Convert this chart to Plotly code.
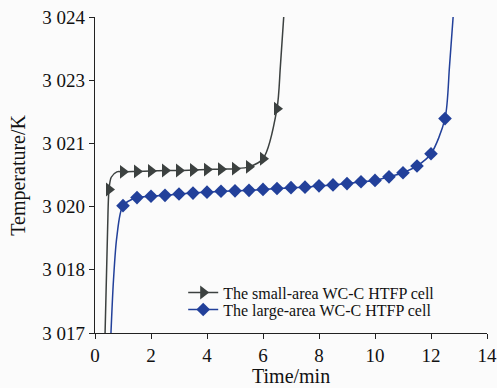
import plotly.graph_objects as go

# ---- data ----
# small-area cell: marker points
small_x = [0.5, 1.0, 1.5, 2.0, 2.5, 3.0, 3.5, 4.0, 4.5, 5.0, 5.5, 6.0, 6.5]
small_y = [3020.18, 3020.57, 3020.58, 3020.59, 3020.60, 3020.60, 3020.61,
           3020.62, 3020.63, 3020.64, 3020.68, 3020.86, 3021.97]
# extra points along the curve (before first marker / bend / after last marker)
small_head_x = [0.36, 0.45]
small_head_y = [3017.0, 3019.3]
small_bend_x = [0.58, 0.78]
small_bend_y = [3020.45, 3020.57]
small_tail_x = [6.62, 6.74]
small_tail_y = [3022.9, 3024.0]

# large-area cell: marker points
large_x = [1.0, 1.5, 2.0, 2.5, 3.0, 3.5, 4.0, 4.5, 5.0, 5.5, 6.0, 6.5, 7.0, 7.5,
           8.0, 8.5, 9.0, 9.5, 10.0, 10.5, 11.0, 11.5, 12.0, 12.5]
large_y = [3019.82, 3020.00, 3020.03, 3020.05, 3020.08, 3020.10, 3020.12,
           3020.14, 3020.15, 3020.16, 3020.18, 3020.20, 3020.22, 3020.23,
           3020.26, 3020.28, 3020.31, 3020.35, 3020.38, 3020.46, 3020.55,
           3020.70, 3020.97, 3021.75]
large_head_x = [0.57, 0.66, 0.78]
large_head_y = [3017.0, 3018.17, 3019.13]
large_tail_x = [12.66, 12.79]
large_tail_y = [3022.9, 3024.0]

y_tickvals = [3017.0, 3018.4, 3019.8, 3021.2, 3022.6, 3024.0]
y_ticktext = ["3 017", "3 018", "3 020", "3 021", "3 023", "3 024"]
x_tickvals = [0, 2, 4, 6, 8, 10, 12, 14]

names = ["The small-area WC-C HTFP cell", "The large-area WC-C HTFP cell"]
x_title = "Time/min"
y_title = "Temperature/K"

GRAY = "#3c4140"
BLUE = "#22409a"
FONT = "Liberation Serif, Times New Roman, serif"
BG = "#fbfbfb"

# build line paths
sp_x = small_head_x + small_x[:1] + small_bend_x + small_x[1:] + small_tail_x
sp_y = small_head_y + small_y[:1] + small_bend_y + small_y[1:] + small_tail_y
lp_x = large_head_x + large_x + large_tail_x
lp_y = large_head_y + large_y + large_tail_y

fig = go.Figure()
fig.add_trace(go.Scatter(x=sp_x, y=sp_y, mode="lines", showlegend=False,
                         line=dict(color=GRAY, width=1.5, shape="spline", smoothing=0.8),
                         hoverinfo="skip"))
fig.add_trace(go.Scatter(x=lp_x, y=lp_y, mode="lines", showlegend=False,
                         line=dict(color=BLUE, width=1.5, shape="spline", smoothing=0.8),
                         hoverinfo="skip"))
fig.add_trace(go.Scatter(x=small_x, y=small_y, mode="markers", showlegend=False,
                         marker=dict(symbol="triangle-right", size=12, color=GRAY)))
fig.add_trace(go.Scatter(x=large_x, y=large_y, mode="markers", showlegend=False,
                         marker=dict(symbol="diamond", size=10.5, color=BLUE)))
# legend entries
fig.add_trace(go.Scatter(x=[None], y=[None], mode="lines+markers", name=names[0],
                         line=dict(color=GRAY, width=1.5),
                         marker=dict(symbol="triangle-right", size=12, color=GRAY),
                         legend="legend"))
fig.add_trace(go.Scatter(x=[None], y=[None], mode="lines+markers", name=names[1],
                         line=dict(color=BLUE, width=1.5),
                         marker=dict(symbol="diamond", size=10.5, color=BLUE),
                         legend="legend2"))

axis_common = dict(showgrid=False, zeroline=False, showline=True, linecolor="#222",
                   linewidth=1.2, ticks="outside", ticklen=5, tickcolor="#222",
                   tickfont=dict(family=FONT, size=19, color="#111"), mirror=False,
                   automargin=False)

leg_common = dict(font=dict(family=FONT, size=16, color="#111"), bgcolor="rgba(0,0,0,0)",
                  xanchor="left", yanchor="middle", itemwidth=30)

fig.update_layout(
    width=497, height=388,
    margin=dict(l=95, r=10, t=17, b=55),
    font=dict(family=FONT, color="#111"),
    paper_bgcolor=BG, plot_bgcolor=BG,
    xaxis=dict(range=[0, 14], tickvals=x_tickvals, **axis_common),
    yaxis=dict(range=[3017, 3024], tickvals=y_tickvals, ticktext=y_ticktext,
               **axis_common),
    legend=dict(x=0.225, y=0.128, **leg_common),
    legend2=dict(x=0.225, y=0.074, **leg_common),
    annotations=[
        dict(text=x_title, xref="paper", yref="paper", x=0.5, y=-0.135,
             xanchor="center", yanchor="middle", showarrow=False,
             font=dict(family=FONT, size=20, color="#111")),
        dict(text=y_title, xref="paper", yref="paper", x=-0.197, y=0.5,
             xanchor="center", yanchor="middle", showarrow=False, textangle=-90,
             font=dict(family=FONT, size=20, color="#111")),
    ],
)

fig.write_html("out.html",
               config={"displayModeBar": False},
               post_script="document.body.style.margin='0';"
                           "document.body.style.background='" + BG + "';")
